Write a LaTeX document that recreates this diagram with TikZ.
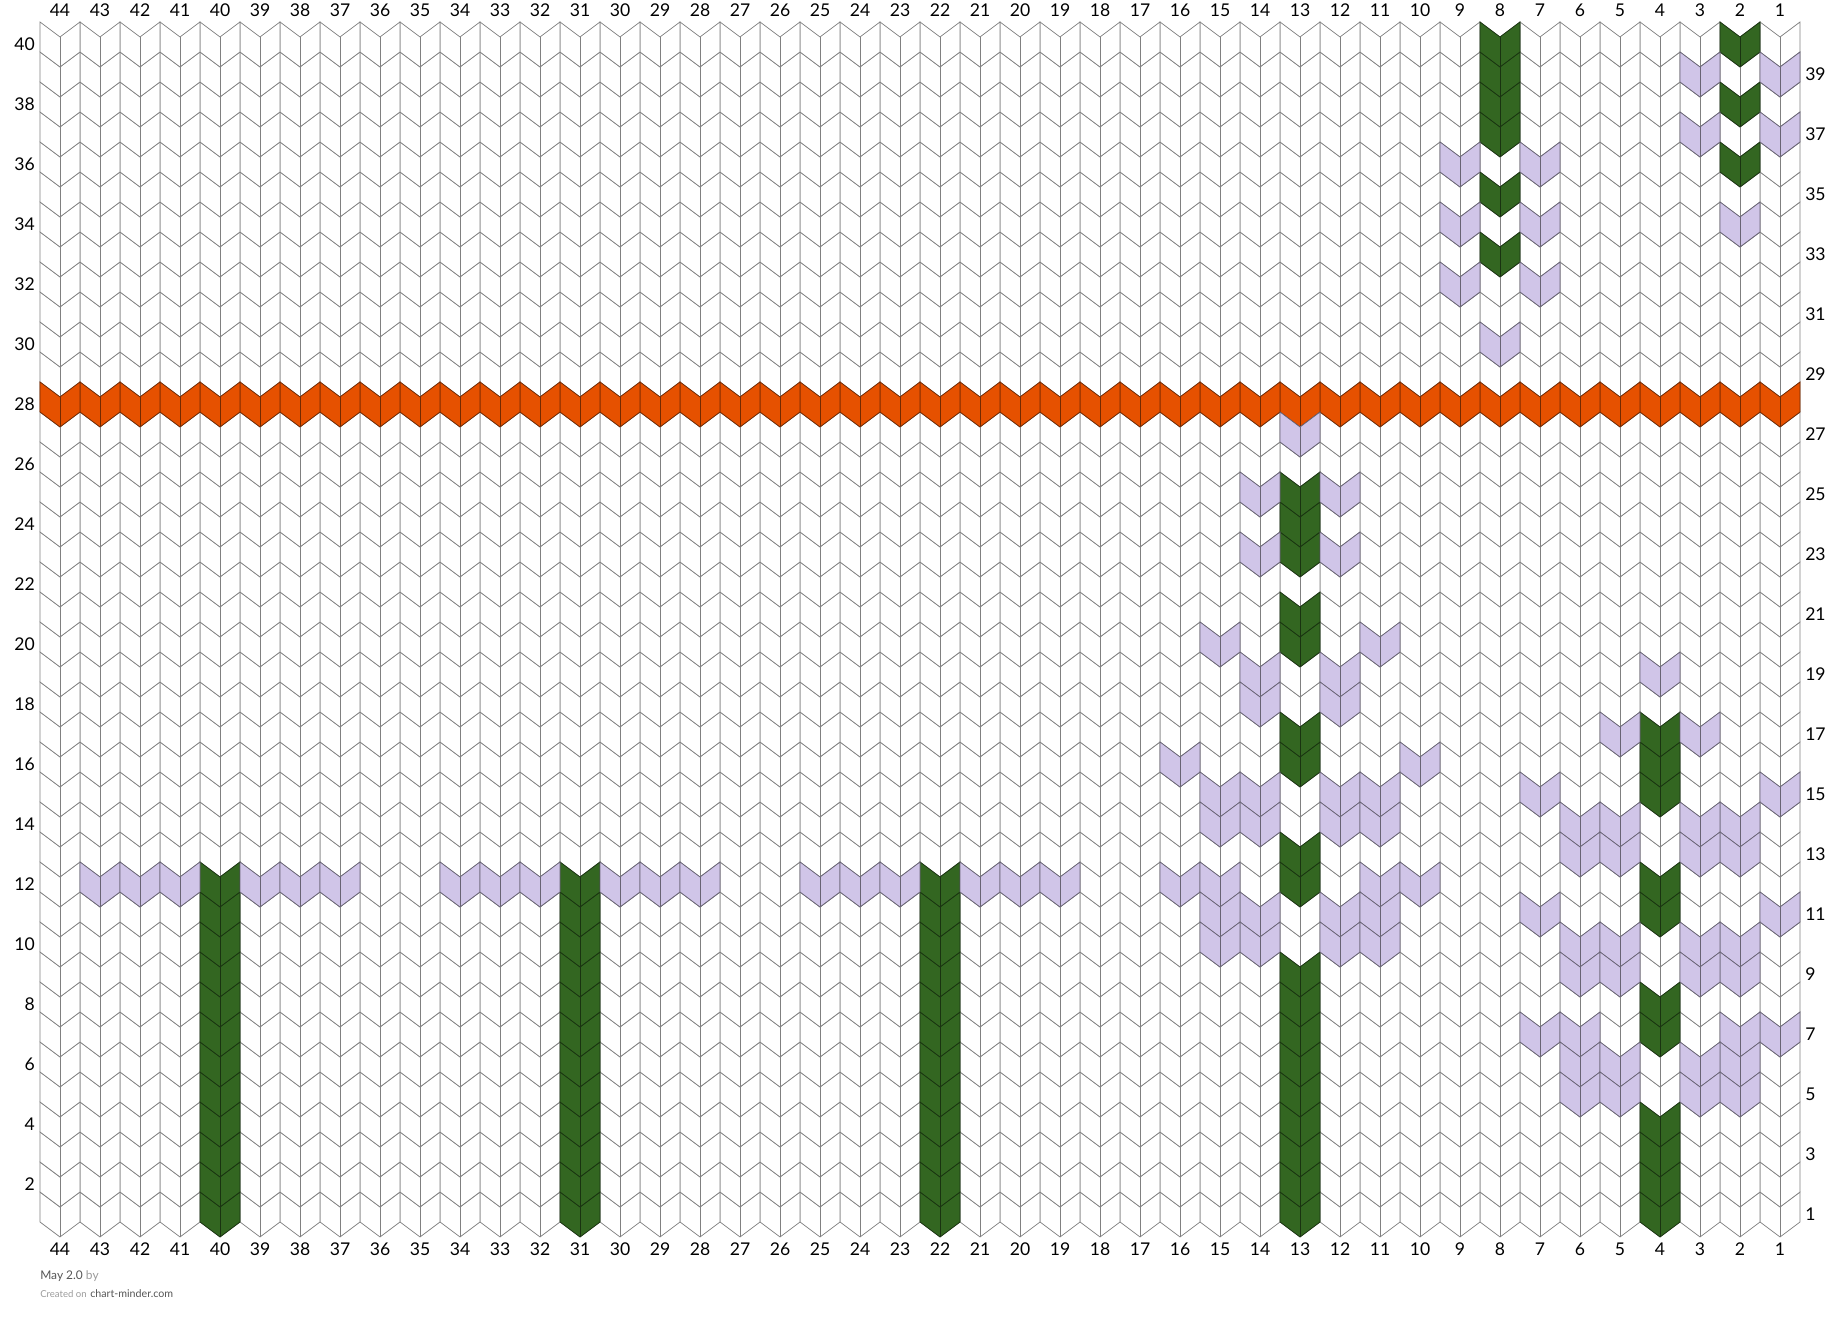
\documentclass[tikz,border=0pt]{standalone}
\usepackage{fontspec}
\setmainfont{Lato}
\usepackage{tikz}
\usepackage{xcolor}

\definecolor{stemgreen}{HTML}{336621}
\definecolor{bandorange}{HTML}{E65100}
\definecolor{lilac}{HTML}{D0C5E8}
\definecolor{footdark}{HTML}{555555}
\definecolor{footlight}{HTML}{9A9A9A}

% one knit stitch (a V) : column, row, colour
\newcommand{\knitst}[3]{%
  \pgfmathsetmacro{\stx}{44-#1}%
  \pgfmathsetmacro{\sty}{0.75*#2}%
  \filldraw[stitch, fill=#3, draw=#3!50!black] (\stx,\sty) -- ++(0.5,-0.375) -- ++(0.5,0.375)
    -- ++(0,-0.75) -- ++(-0.5,-0.375) -- ++(-0.5,0.375) -- cycle;
  \draw[stitch, draw=#3!50!black] (\stx+0.5,\sty-0.375) -- ++(0,-0.75);}

\begin{document}
\begin{tikzpicture}[
  stitch/.style={line width=0.5pt, line join=miter},
  numlabel/.style={font=\fontsize{12.5}{14}\selectfont, inner sep=0pt, text=black}]
\useasboundingbox (-1,-2.525) rectangle (45,30.55);

% --- fondo: tutte le maglie bianche ---
\foreach \r in {1,...,40} {\foreach \c in {1,...,44} {\knitst{\c}{\r}{white}}}

% --- riga arancione ---
\foreach \c in {1,...,44} {\knitst{\c}{28}{bandorange}}

% --- steli verdi ---
\foreach \c in {40,31,22} {\foreach \r in {1,...,12} {\knitst{\c}{\r}{stemgreen}}}
\foreach \r in {1,...,9,12,13,16,17,20,21,23,24,25} {\knitst{13}{\r}{stemgreen}}
\foreach \r in {1,...,4,7,8,11,12,15,16,17} {\knitst{4}{\r}{stemgreen}}
\foreach \r in {33,35,37,38,39,40} {\knitst{8}{\r}{stemgreen}}
\foreach \r in {36,38,40} {\knitst{2}{\r}{stemgreen}}

% --- foglie lilla ---
\foreach \c in {43,42,41,39,38,37,34,33,32,30,29,28,25,24,23,21,20,19,16,15,11,10} {\knitst{\c}{12}{lilac}}
\foreach \c/\r in {13/27, 16/16, 10/16, 4/19, 5/17, 3/17, 8/30, 2/34} {\knitst{\c}{\r}{lilac}}
\foreach \r in {25,23,19,18,15,14,11,10} {\knitst{14}{\r}{lilac} \knitst{12}{\r}{lilac}}
\foreach \r in {20,15,14,11,10} {\knitst{15}{\r}{lilac} \knitst{11}{\r}{lilac}}
\foreach \r in {15,11,7} {\knitst{7}{\r}{lilac} \knitst{1}{\r}{lilac}}
\foreach \r in {14,13,10,9,7,6,5} {\knitst{6}{\r}{lilac} \knitst{2}{\r}{lilac}}
\foreach \r in {14,13,10,9,6,5} {\knitst{5}{\r}{lilac} \knitst{3}{\r}{lilac}}
\foreach \r in {36,34,32} {\knitst{9}{\r}{lilac} \knitst{7}{\r}{lilac}}
\foreach \r in {39,37} {\knitst{3}{\r}{lilac} \knitst{1}{\r}{lilac}}

% --- numeri di colonna e di riga ---
\foreach \c in {1,...,44} {
  \node[numlabel] (top\c) at (44.5-\c,30.3) {\c};
  \node[numlabel] (bot\c) at (44.5-\c,-0.675) {\c};
}
\foreach \r in {2,4,...,40} {\node[numlabel, anchor=east] (left\r) at (-0.125,{0.75*\r-0.56}) {\r};}
\foreach \r in {1,3,...,39} {\node[numlabel, anchor=west] (right\r) at (44.125,{0.75*\r-0.56}) {\r};}

% --- piede ---
\node[anchor=base west, inner sep=0pt, font=\fontsize{8.5}{10}\selectfont] (title) at (0,-1.43)
  {\textcolor{footdark}{May 2.0} \textcolor{footlight}{by}};
\node[anchor=base west, inner sep=0pt] (credit) at (0,-1.88)
  {\textcolor{footlight}{\fontsize{6.8}{8}\selectfont Created on} \textcolor{footdark}{\fontsize{7.6}{9}\selectfont chart-minder.com}};
\end{tikzpicture}
\end{document}
